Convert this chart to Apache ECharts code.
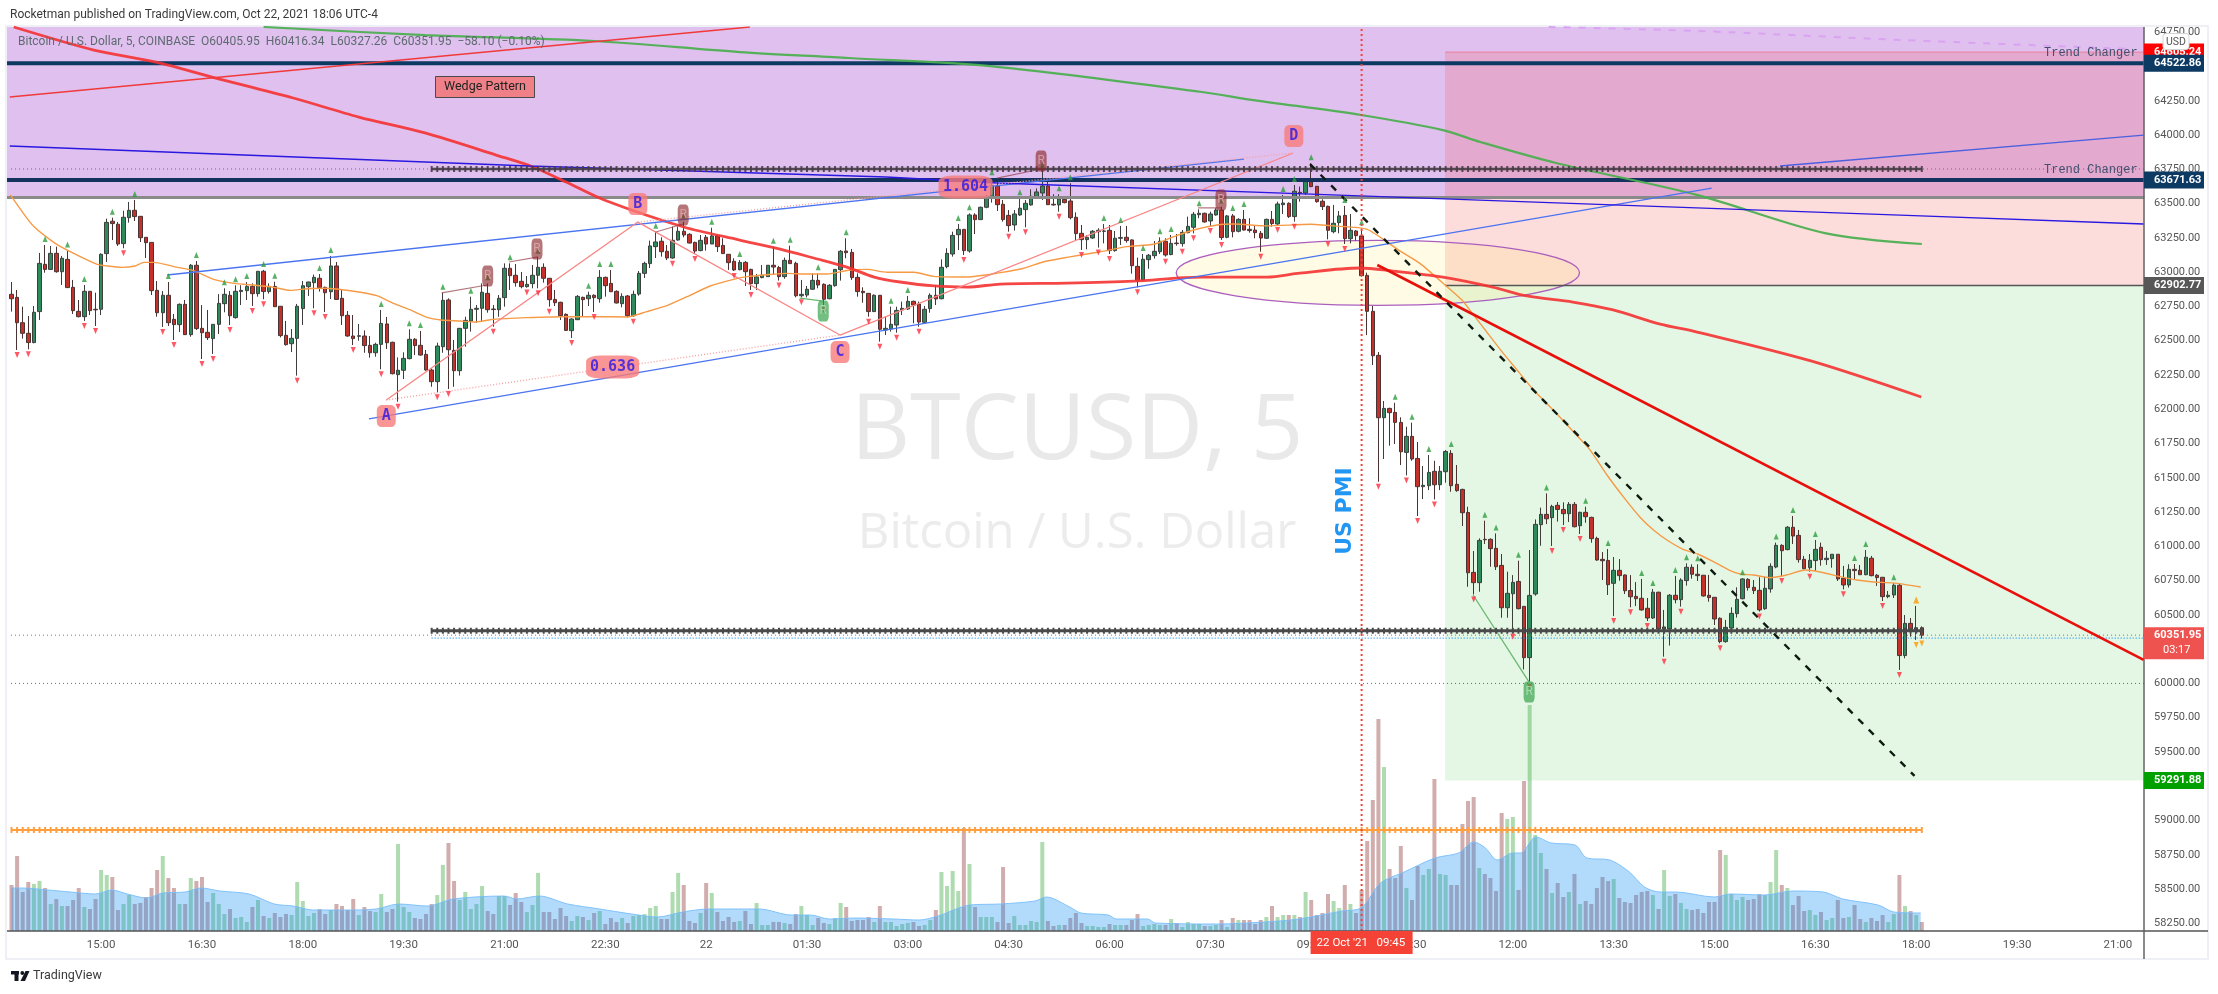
<!DOCTYPE html>
<html><head><meta charset="utf-8">
<style>html,body{margin:0;padding:0;background:#fff}#c{width:2218px;height:994px}</style>
<script src="https://cdn.jsdelivr.net/npm/echarts@6/dist/echarts.min.js"></script>
</head><body><div id="c"></div>
<script>
const opens=[62838,62816,62631,62554,62486,62712,63057,63020,63137,63003,
63093,62889,62714,62675,62860,62729,62729,63135,63371,63349,
63208,63397,63451,63407,63254,63217,62867,62704,62831,62656,
62617,62765,62544,63050,62590,62561,62515,62619,62770,62831,
62668,62858,62865,62896,62843,63006,62858,62896,62751,62539,
62478,62517,62734,62894,62923,62955,62889,62857,63045,62809,
62685,62534,62532,62534,62466,62412,62473,62622,62488,62252,
62284,62369,62510,62466,62400,62286,62201,62456,62797,62429,
62281,62590,62643,62729,62736,62845,62731,62726,62814,63028,
62977,62933,62894,62916,62977,63035,62955,62801,62780,62692,
62573,62653,62816,62806,62831,62806,62962,62918,62860,62770,
62826,62682,62840,62991,63062,63186,63225,63152,63103,63234,
63298,63276,63217,63157,63254,63205,63264,63195,63130,63079,
63018,63071,63020,62916,62960,62967,63050,63033,62967,63086,
63064,62828,62833,62875,62940,62911,62806,62901,63018,63154,
63144,62962,62860,62845,62712,62831,62578,62585,62614,62724,
62731,62787,62768,62634,62734,62831,62806,63040,63132,63273,63312,
63154,63417,63383,63473,63551,63626,63495,63414,63344,
63417,63456,63490,63551,63577,63628,63495,63490,63531,63519,
63400,63283,63237,63249,63295,63298,63305,63157,63247,63254,
63235,63042,62943,63091,63120,63149,63225,63128,63212,63208,
63288,63327,63419,63429,63373,63417,63453,63254,63410,63298,
63385,63312,63307,63283,63247,63385,63351,63492,63502,63405,
63582,63577,63658,63626,63517,63480,63295,63361,63414,63244,63300,63264,
62976,62714,62393,61938,62006,61977,61904,61685,61802,
61641,61435,61442,61547,61449,61544,61678,61452,61415,61247,
60810,60735,61051,61051,60985,60861,60552,60654,60744,60562,
60188,60652,61158,61233,61209,61299,61269,61238,61306,61150,
61248,61211,61058,60905,60897,60730,60825,60791,60678,60635,
60621,60548,60477,60665,60397,60397,60643,60611,60750,60847,
60796,60789,60643,60628,60475,60305,60404,60509,60618,60759,
60701,60679,60545,60689,60849,61007,60976,61139,61080,60905,
60844,60896,60993,60903,60910,60942,60767,60718,60832,60825,
60793,60913,60789,60774,60633,60645,60716,60203,60438,60392,60405.95];
const closes=[62806,62631,62554,62486,62707,63064,63020,63137,63003,63101,
62887,62719,62675,62860,62719,62725,63130,63363,63354,63205,
63400,63451,63405,63251,63215,62865,62704,62831,62631,62617,
62765,62544,63050,62588,62558,62522,62619,62772,62838,62682,
62860,62867,62896,62843,63006,62858,62896,62748,62537,62471,
62517,62751,62901,62928,62962,62887,62850,63045,62801,62682,
62534,62515,62536,62464,62412,62473,62626,62485,62259,62284,
62371,62510,62464,62395,62286,62201,62461,62794,62434,62281,
62590,62648,62729,62736,62853,62726,62727,62809,63028,62974,
62923,62894,62911,62977,63035,62955,62799,62777,62682,62575,
62658,62823,62799,62831,62814,62962,62901,62857,62775,62823,
62682,62838,62991,63064,63191,63220,63149,63103,63232,63298,
63271,63212,63154,63232,63205,63264,63186,63135,63069,63016,
63071,63003,62916,62965,62977,63050,63037,62967,63086,63062,
62828,62838,62875,62940,62906,62802,62904,63020,63152,63142,
62960,62858,62850,62712,62831,62583,62590,62619,62721,62736,
62787,62760,62636,62729,62831,62804,63035,63137,63268,63312,63157,
63417,63383,63473,63553,63631,63492,63383,63339,63424,
63466,63502,63553,63585,63628,63492,63490,63534,63507,63397,
63281,63237,63254,63298,63305,63300,63157,63247,63252,63230,
63047,62938,63094,63123,63152,63225,63125,63210,63208,63290,
63334,63422,63429,63366,63424,63453,63252,63410,63295,63385,
63307,63303,63288,63249,63385,63354,63497,63504,63405,63590,
63575,63660,63624,63514,63478,63305,63356,63410,63244,63305,63266,62974,
62714,62390,61938,62006,61975,61904,61690,61802,61637,
61435,61445,61539,61449,61547,61692,61442,61406,61245,60807,
60735,61043,61048,60983,60851,60552,60657,60737,60545,60188,
60642,61160,61233,61201,61291,61269,61238,61306,61143,61248,
61216,61056,60900,60895,60720,60825,60786,60676,60632,60618,
60536,60477,60665,60397,60412,60643,60611,60754,60847,60796,
60786,60638,60626,60470,60305,60409,60511,60613,60762,60699,
60677,60536,60694,60854,61007,60968,61139,61075,60903,60837,
60898,60978,60903,60913,60942,60762,60718,60832,60823,60793,
60920,60786,60772,60633,60643,60716,60203,60438,60392,60406,60351.95];
const highs=[62928,62870,62748,62680,62753,63140,63198,63191,63186,63118,
63157,62943,62797,62906,62860,62850,63137,63390,63397,63366,
63448,63512,63526,63409,63254,63217,62935,62862,62928,62695,
62772,62797,63059,63081,62760,62724,62619,62840,62882,62862,
62904,62904,62928,62918,63006,63016,62918,62930,62751,62644,
62585,62768,62935,62930,62982,62986,62894,63118,63074,62870,
62716,62687,62622,62575,62534,62485,62724,62673,62493,62378,
62415,62583,62519,62571,62432,62298,62485,62850,62809,62505,
62590,62675,62821,62760,62918,62918,62760,62833,63064,63064,
63059,63001,62972,63052,63113,63064,62955,62870,62784,62699,
62663,62833,62821,62857,62838,63015,62967,63015,62867,62845,
62833,62865,63008,63076,63230,63295,63254,63198,63332,63332,
63368,63283,63222,63271,63271,63324,63271,63247,63130,63101,
63088,63081,63025,62986,63052,63052,63186,63045,63106,63193,
63076,62943,62899,62991,62991,62918,62913,63020,63161,63247,
63169,62991,62889,62845,62838,62833,62675,62748,62748,62785,
62826,62792,62785,62753,62845,62906,63093,63174,63295,63351,63312,
63429,63429,63478,63563,63684,63660,63526,63453,63453,
63538,63526,63604,63611,63740,63660,63568,63568,63551,63648,
63436,63344,63269,63307,63320,63351,63344,63300,63337,63337,
63239,63106,63132,63132,63227,63254,63247,63271,63278,63307,
63405,63439,63458,63434,63441,63466,63478,63417,63424,63393,
63453,63393,63344,63300,63390,63446,63514,63563,63509,63636,
63624,63667,63794,63628,63531,63485,63490,63446,63483,63424,63307,63320,
62996,62753,62417,62060,62011,62047,61941,61872,61902,
61761,61586,61666,61624,61586,61702,61702,61593,61420,61289,
60966,61058,61187,61058,61094,60944,60815,60790,60895,60562,
60973,61196,61282,61386,61303,61323,61321,61323,61323,61252,
61289,61216,61070,60958,60980,60922,60907,60795,60790,60739,
60762,60623,60689,60669,60536,60652,60784,60767,60876,60869,
60869,60791,60791,60628,60482,60463,60555,60701,60767,60767,
60754,60774,60779,60876,61027,61015,61148,61221,61119,60930,
60944,61046,61027,60966,60942,60942,60857,60869,60871,60864,
60973,60930,60798,60774,60674,60730,60730,60499,60477,60565,60416.34];
const lows=[62712,62432,62515,62437,62481,62651,62996,63016,62996,62906,
62884,62695,62670,62644,62687,62607,62687,63074,63234,63191,
63174,63361,63373,63220,63103,62833,62675,62600,62607,62505,
62563,62544,62529,62578,62366,62505,62403,62549,62707,62614,
62661,62760,62797,62753,62821,62802,62843,62746,62524,62464,
62417,62245,62614,62826,62736,62858,62709,62804,62797,62614,
62529,62468,62500,62412,62376,62383,62291,62439,62254,62055,
62220,62364,62395,62391,62281,62164,62123,62412,62147,62164,
62245,62456,62566,62631,62639,62704,62602,62675,62748,62870,
62894,62882,62887,62882,62882,62923,62748,62753,62651,62571,
62519,62651,62675,62753,62709,62777,62821,62857,62772,62743,
62670,62675,62828,62957,63030,63103,63113,63088,63098,63230,
63254,63210,63132,63152,63157,63205,63147,63132,63016,63008,
63013,62899,62870,62870,62955,62967,62979,62938,62952,63062,
62816,62816,62816,62870,62882,62760,62802,62894,62938,63101,
62943,62821,62777,62675,62709,62493,62541,62566,62558,62687,
62724,62627,62602,62627,62704,62760,62802,63028,63113,63161,63125,
63142,63278,63380,63466,63507,63446,63368,63295,63303,
63410,63327,63485,63551,63526,63490,63485,63441,63502,63385,
63230,63162,63166,63242,63179,63210,63132,63149,63198,63215,
62989,62889,62938,63025,63098,63132,63113,63123,63193,63186,
63283,63283,63393,63361,63337,63412,63235,63247,63254,63290,
63303,63288,63247,63149,63242,63332,63344,63424,63395,63368,
63514,63563,63619,63507,63453,63239,63283,63283,63205,63210,63230,62967,
62541,62322,61471,61637,61734,61746,61593,61517,61624,
61221,61345,61410,61342,61410,61464,61398,61398,61148,60705,
60649,60669,61017,60851,60827,60479,60479,60377,60540,60102,
60012,60640,61004,61162,61002,61180,61155,61177,61138,61090,
61172,61026,60895,60754,60645,60491,60749,60652,60555,60564,
60531,60455,60470,60395,60195,60276,60584,60560,60713,60764,
60747,60633,60596,60426,60293,60297,60400,60480,60613,60677,
60652,60524,60536,60662,60840,60784,60971,61017,60881,60832,
60815,60820,60859,60864,60844,60747,60686,60699,60762,60791,
60789,60781,60711,60601,60621,60623,60098,60183,60341,60317,60327.26];
const volumes=[46,75,39,49,47,50,43,27,32,25,25,31,43,24,22,32,61,56,54,21,27,36,27,28,34,43,61,75,53,43,27,27,53,50,54,29,38,27,17,22,13,14,9,24,31,15,13,18,14,17,16,49,30,15,18,22,17,21,27,25,21,32,16,24,20,19,37,19,22,87,24,19,13,12,17,27,36,66,88,50,31,39,22,27,45,20,17,35,35,26,38,29,19,26,58,19,19,12,23,15,10,15,14,11,18,20,7,13,9,13,8,15,16,17,23,25,12,12,39,58,46,10,8,18,48,38,19,10,14,9,10,20,7,28,6,6,9,9,8,7,17,25,16,6,13,8,7,13,28,24,10,11,11,14,9,25,9,9,5,7,8,9,5,6,11,21,59,45,60,40,103,67,24,14,14,14,9,64,8,15,6,6,10,9,89,10,5,6,6,13,18,8,5,5,4,4,7,6,6,6,11,17,5,6,7,6,6,12,8,4,9,7,7,5,5,6,11,4,13,11,11,11,7,11,14,25,14,16,16,16,14,39,31,16,18,37,30,23,46,27,18,41,90,131,212,164,62,53,85,43,31,65,56,62,152,57,56,46,46,107,130,134,63,57,53,40,118,112,114,41,150,226,96,78,62,38,48,34,39,57,27,30,27,43,54,50,52,33,29,28,36,39,40,36,22,61,35,37,28,22,21,22,18,29,29,81,76,37,31,34,31,32,37,36,49,81,46,43,26,35,20,21,16,19,11,13,31,13,14,26,12,9,13,10,16,9,17,56,25,20,16,9];
const volumeMA=[[0,43],[1.9,43],[6.5,41],[10.5,39],[15,37],[17.9,41],[20.7,37],[24.1,33],[27,38],[31,39],[33.8,43],[37.2,40],[42.4,37],[46.9,27],[50.3,25],[53.8,21],[59.5,21],[65.1,22],[69.1,27],[74.3,25],[78.8,32],[87.9,35],[90.2,32],[94.2,35],[99.3,27],[105,22],[110.7,17],[115.3,14],[119.8,19],[124.4,22],[133.5,22],[139.2,16],[142.6,16],[146,12],[150.6,13],[157.4,12],[162,11],[165.4,15],[171.1,26],[176.5,27],[182.7,30],[184.7,34],[188.9,24],[190.9,18],[195.8,16],[197.2,12],[202.8,12],[204.2,8],[215.3,7],[223.6,9],[229.8,12],[237.5,20],[240.9,23],[244.4,48],[248.6,59],[254.1,73],[258.3,78],[261,89],[263.1,83],[265.2,71],[268,78],[269.4,78],[272.1,94],[274.9,88],[279.1,86],[281.2,73],[285.3,71],[288.8,59],[291.5,44],[294.3,39],[297.1,39],[304,34],[306.8,37],[313,36],[317.9,40],[323.4,39],[326.9,32],[333.2,26],[336,19],[340.8,18]];
const orangeMA=[[-0.2,63563],[1.9,63441],[4,63332],[7.8,63210],[11.1,63137],[15.3,63057],[17.1,63045],[19.7,63035],[22.1,63045],[23.6,63071],[25.4,63071],[29.6,63035],[32.5,63011],[36.1,62947],[39.7,62918],[43.2,62906],[46.8,62889],[49.8,62867],[52.8,62879],[56.3,62882],[59.3,62870],[62.3,62853],[65.2,62828],[68.2,62772],[71.2,62724],[74.2,62670],[76.6,62651],[80.1,62643],[82.5,62636],[86.1,62656],[92,62668],[98,62675],[104,62675],[109.9,62673],[113.4,62712],[117,62755],[120.6,62821],[124.7,62899],[128.9,62947],[131.3,62967],[134.9,62981],[138.4,62991],[142,62986],[145.6,62986],[149.7,63016],[152.7,63020],[156.3,62999],[161.1,62999],[164.6,62969],[170.6,62964],[176.5,62996],[180.7,63028],[184.3,63076],[188.4,63108],[194.4,63149],[199.1,63186],[203.9,63203],[207.5,63259],[211,63307],[215.2,63344],[218.2,63351],[224.1,63337],[231.9,63349],[236,63337],[242,63312],[247.6,63161],[251.4,63064],[255.9,62906],[258.9,62796],[261,62687],[263.3,62565],[266.3,62407],[269,62274],[271.7,62140],[275.2,61994],[278.8,61836],[281.8,61702],[284.8,61520],[287.7,61362],[290.7,61212],[293.1,61119],[295.5,61046],[298.4,60978],[301.1,60942],[303.8,60888],[306.8,60823],[308.6,60798],[310.9,60791],[313.9,60771],[316.9,60791],[320.2,60827],[322.8,60813],[326.4,60779],[329.4,60754],[332.4,60740],[335.9,60733],[340.8,60703]];
const redMA=[[0.4,64788],[14.7,64620],[25.8,64532],[35.8,64423],[50.3,64270],[62,64131],[73.8,64015],[86.5,63854],[93.1,63767],[99,63657],[105.8,63526],[120,63329],[130,63234],[137.2,63168],[143.2,63103],[149.1,63037],[154,62964],[158.6,62928],[164.7,62899],[170.6,62891],[176.5,62913],[188.4,62920],[200.4,62935],[212.2,62964],[224.1,62964],[230,62993],[240.7,63030],[246.6,63008],[255.5,62964],[264.4,62891],[270.5,62826],[278.7,62782],[285.9,62724],[294.3,62621],[300.9,62563],[321.2,62352],[340.9,62089]];
const greenMA=[[45,64788],[73.8,64729],[104,64686],[130,64605],[149.5,64562],[174.7,64503],[212.5,64314],[221.7,64255],[240.9,64146],[255.5,64036],[262.2,63949],[275.7,63796],[301,63562],[323.7,63285],[341,63205]];
const wedgeUpper=[[27.8,62979],[220,63825]];
const wedgeLower=[[63.8,61929],[303.5,63613]];
const blueRising=[[315.7,63774],[380.6,64000]];
const blueFalling=[[-0.3,63920],[92.4,63774],[156.1,63694],[175.9,63650],[242,63555],[337.1,63416],[380.6,63351]];
const redRising=[[-0.3,64277],[131.8,64788]];
const redFalling=[[243.8,63052],[380.6,60171]];
const blackDashed=[[231.8,63788],[339.7,59325]];
const lilacDashed=[[274.4,64788],[300.9,64759],[337.6,64693],[378.7,64627]];
const patternABCD=[[66.9,62067],[111.8,63365],[147.9,62541],[228.8,63869]];
const connectorsDark=[[[76.8,62848],[84.9,62906]],[[88.8,63074],[93.8,63110]],[[115,63293],[119.9,63351]],[[175.9,63686],[183.8,63752]],[[211.8,63468],[215.9,63468]]];
const connectorsGreen=[[[140.7,62811],[144.9,62789]],[[260.9,60645],[270.9,60010]]];
const upMarks=[6,10,13,18,22,28,33,38,40,42,45,47,55,57,66,71,73,77,82,85,89,94,103,105,107,115,120,125,130,136,139,144,149,157,160,169,171,175,180,184,187,189,195,198,202,205,207,212,216,218,220,227,229,232,238,241,247,250,253,257,263,265,269,274,281,285,291,293,297,299,301,309,315,318,322,329,331,336];
const downMarks=[1,3,13,15,20,27,29,34,36,39,43,45,51,54,56,61,66,69,76,78,86,92,94,96,100,104,111,118,122,129,132,137,141,145,153,155,158,162,170,178,181,187,191,194,196,201,206,209,211,214,216,223,226,229,235,238,244,249,251,254,261,268,271,275,277,280,286,289,292,295,298,305,312,316,321,327,334,337];
const orangeUp=[340];
const orangeDown=[340,341];
const patternTags=[{t:'A',x:66.9,p:61950,w:19,h:22,f:15},{t:'B',x:111.8,p:63497,w:19,h:22,f:15},{t:'C',x:147.9,p:62417,w:19,h:22,f:15},{t:'D',x:228.9,p:63993,w:19,h:22,f:15},{t:'0.636',x:107.3,p:62308,w:53,h:23,f:15},{t:'1.604',x:170.3,p:63621,w:54,h:23,f:15}];
const revDark=[[85,62972],[93.8,63168],[119.9,63416],[183.8,63810],[215.9,63526]];
const revGreen=[[144.9,62716],[270.9,59937]];
const levelUpper=63752, levelLower=60384, levelOrange=58931, levelNavyA=64522.86, levelNavyB=63671.63, levelGrey=63544;
const lastPrice=60351.95, bluePrice=60330, round60k=60000;
const stopPrice=64605.24, entryPrice=62902.77, targetPrice=59291.88;
const priceTicks=[58250,58500,58750,59000,59250,59500,59750,60000,60250,60500,60750,61000,61250,61500,61750,62000,62250,62500,62750,63000,63250,63500,63750,64000,64250,64500,64750];
const timeTicks={16:'15:00',34:'16:30',52:'18:00',70:'19:30',88:'21:00',106:'22:30',124:'22',142:'01:30',160:'03:00',178:'04:30',196:'06:00',214:'07:30',232:'09:00',250:'10:30',268:'12:00',286:'13:30',304:'15:00',322:'16:30',340:'18:00',358:'19:30',376:'21:00'};
const eventBar=241;
const yMin=58194,yMax=64788,xL=-0.8,xR=380.7,boxL=255.9;
const zones=[
 {x0:xL,p0:yMax,x1:xR,p1:levelGrey,c:'#e0c0ee'},
 {x0:boxL,p0:stopPrice,x1:xR,p1:entryPrice,c:'rgba(245,80,80,0.2)'},
 {x0:boxL,p0:entryPrice,x1:xR,p1:targetPrice,c:'rgba(76,200,80,0.15)'}
];
const priceTags=[
 {p:stopPrice,c:'#ff0000',t:'64605.24'},
 {p:levelNavyA,c:'#0d3a63',t:'64522.86'},
 {p:levelNavyB,c:'#0d3a63',t:'63671.63'},
 {p:entryPrice,c:'#575757',t:'62902.77'},
 {p:targetPrice,c:'#00a000',t:'59291.88'}
];

const categories=Array.from({length:381},(_,i)=>timeTicks[i]||'');
const candleData=closes.map((c,i)=>[opens[i],c,lows[i],highs[i]]);
const barCols=i=>closes[i]>=opens[i]?'rgba(76,175,80,0.45)':'rgba(140,50,50,0.4)';
const ln=(name,data,color,width,extra)=>Object.assign({name,type:'line',xAxisIndex:1,yAxisIndex:0,data,symbol:'none',silent:true,z:6,
  lineStyle:{color,width},animation:false},extra||{});
const hatch=(from,to,p)=>{const d=[];for(let i=from;i<=to;i++)d.push([i,p]);return d;};
const hatchSeries=(name,from,to,p,color,lw,h)=>({name,type:'line',xAxisIndex:1,yAxisIndex:0,data:hatch(from,to,p),symbol:'rect',symbolSize:[2,h],showSymbol:true,showAllSymbols:true,
  itemStyle:{color},lineStyle:{color,width:lw},z:7,silent:true,animation:false});
const tri=(name,idx,src,color,dy,rot,size)=>({name,type:'scatter',xAxisIndex:1,yAxisIndex:0,data:idx.map(i=>[i,src[i]]),symbol:'triangle',symbolSize:size||[5,6],symbolOffset:[0,dy],symbolRotate:rot,itemStyle:{color},z:8,silent:true,animation:false});

const series=[
 {name:'zones',type:'custom',xAxisIndex:1,yAxisIndex:0,z:1,silent:true,animation:false,
  data:zones.map(z=>[z.x0,z.p0,z.x1,z.p1]),encode:{x:[0,2],y:[1,3]},
  renderItem(params,api){const a=api.coord([api.value(0),api.value(1)]),b=api.coord([api.value(2),api.value(3)]);
   return {type:'rect',shape:{x:a[0],y:a[1],width:b[0]-a[0],height:b[1]-a[1]},style:{fill:zones[params.dataIndex].c}};}},
 {name:'ellipse',type:'custom',xAxisIndex:1,yAxisIndex:0,z:2,silent:true,animation:false,
  data:[[243.9,62995,36,237]],encode:{x:0,y:1},
  renderItem(params,api){const c=api.coord([api.value(0),api.value(1)]),e=api.coord([api.value(0)+api.value(2),api.value(1)-api.value(3)]);
   return {type:'ellipse',shape:{cx:c[0],cy:c[1],rx:e[0]-c[0],ry:e[1]-c[1]},style:{fill:'rgba(255,235,120,0.2)',stroke:'#ab5fbd',lineWidth:1.3}};}},
 {name:'volume',type:'bar',xAxisIndex:0,yAxisIndex:1,barWidth:4,z:3,silent:true,animation:false,
  data:volumes.map((v,i)=>({value:v,itemStyle:{color:barCols(i)}}))},
 ln('volumeMA',volumeMA,'rgba(120,190,250,0.9)',1,{yAxisIndex:1,smooth:0.3,areaStyle:{color:'rgba(33,150,243,0.35)',opacity:1},z:4}),
 ln('dottedUpper',[[xL,levelUpper],[xR,levelUpper]],'#6b6b6b',1,{lineStyle:{color:'#6b6b6b',width:1,type:[1,3]}}),
 ln('dottedLast',[[xL,lastPrice],[xR,lastPrice]],'#e05040',1,{lineStyle:{color:'#e05040',width:1,type:[1,3]}}),
 ln('dottedBlue',[[75,bluePrice],[xR,bluePrice]],'#2196f3',1,{lineStyle:{color:'#2196f3',width:1.2,type:[1,2]}}),
 ln('dotted60k',[[xL,round60k],[xR,round60k]],'#666',1,{lineStyle:{color:'#666',width:1,type:[1,3]}}),
 ln('navyA',[[xL,levelNavyA],[xR,levelNavyA]],'#0d3a63',4),
 ln('navyB',[[xL,levelNavyB],[xR,levelNavyB]],'#14325e',4),
 ln('grey',[[xL,levelGrey],[xR,levelGrey]],'#8a8a8a',3),
 ln('entry',[[boxL,entryPrice],[xR,entryPrice]],'#555',1.5),
 ln('stop',[[boxL,stopPrice],[xR,stopPrice]],'rgba(240,90,110,0.55)',1),
 {name:'btc',type:'candlestick',xAxisIndex:0,yAxisIndex:0,data:candleData,barWidth:4,z:5,silent:true,animation:false,progressive:0,
  itemStyle:{color:'#2f8a5b',color0:'#c4302a',borderColor:'#3e3e3e',borderColor0:'#4a3433',borderWidth:1,borderColorDoji:'#3e3e3e'}},
 ln('orangeMA',orangeMA,'#f79a45',1.4,{smooth:0.2}),
 ln('greenMA',greenMA,'rgba(76,175,80,0.95)',2.2,{smooth:0.3}),
 ln('redMA',redMA,'rgba(244,50,50,0.9)',2.8,{smooth:0.3}),
 ln('wedgeUpper',wedgeUpper,'#4a74f0',1.3),
 ln('wedgeLower',wedgeLower,'#4a74f0',1.3),
 ln('blueRising',blueRising,'#4a60e0',1.3),
 ln('blueFalling',blueFalling,'#2a18e0',1.3),
 ln('redRising',redRising,'#f03a3a',1.4),
 ln('redFalling',redFalling,'#e8100b',2.6),
 ln('blackDashed',blackDashed,'#0f1a10',2.4,{lineStyle:{color:'#0f1a10',width:2.4,type:[7,8]},z:8}),
 ln('lilacDashed',lilacDashed,'#d9a3f2',2,{lineStyle:{color:'#d9a3f2',width:2,type:[7,8]},smooth:0.3}),
 ln('abcd',patternABCD,'#f98585',1.3),
 ln('ac',[patternABCD[0],patternABCD[2]],'#f9a0a0',1.4,{lineStyle:{color:'#f9a0a0',width:1.4,type:[1,2]}}),
 ln('bd',[patternABCD[1],patternABCD[3]],'#f9a0a0',1.4,{lineStyle:{color:'#f9a0a0',width:1.4,type:[1,2]}}),
 ...connectorsDark.map((d,i)=>ln('cd'+i,d,'rgba(150,60,70,0.7)',1.2)),
 ...connectorsGreen.map((d,i)=>ln('cg'+i,d,'#6ab76e',1.3)),
 hatchSeries('hatchUpper',75,341,levelUpper,'rgba(70,60,70,0.9)',2.5,6),
 hatchSeries('hatchLower',75,341,levelLower,'#4a4a4a',3,6),
 hatchSeries('hatchOrange',0,341,levelOrange,'#ffa040',2,6),
 tri('up',upMarks,highs,'#2e9e3e',-6,0),
 tri('down',downMarks,lows,'#ff2d3f',5,180),
 tri('upO',orangeUp,highs,'#ff9800',-6,0,[6,7]),
 tri('downO',orangeDown,lows,'#ff9800',5,180),
 {name:'rev',type:'scatter',xAxisIndex:1,yAxisIndex:0,z:9,silent:true,animation:false,symbol:'roundRect',symbolSize:[11,21],data:revDark,
  itemStyle:{color:'rgba(140,40,45,0.8)'},label:{show:true,position:'inside',formatter:'R',color:'#e0aeb0',fontSize:12,fontFamily:'Roboto'}},
 {name:'revG',type:'scatter',xAxisIndex:1,yAxisIndex:0,z:9,silent:true,animation:false,symbol:'roundRect',symbolSize:[11,21],data:revGreen,
  itemStyle:{color:'rgba(50,160,70,0.85)'},label:{show:true,position:'inside',formatter:'R',color:'#b5e0ba',fontSize:12,fontFamily:'Roboto'}},
 {name:'tags',type:'scatter',xAxisIndex:1,yAxisIndex:0,z:10,silent:true,animation:false,symbol:'roundRect',
  data:patternTags.map(t=>({value:[t.x,t.p],symbolSize:[t.w,t.h],label:{show:true,position:'inside',formatter:t.t,color:'#2a17e6',fontSize:t.f,fontWeight:'bold',fontFamily:'DejaVu Sans Mono'}})),
  itemStyle:{color:'#f77a7a'}},
 {name:'eventLine',type:'line',xAxisIndex:1,yAxisIndex:0,z:11,silent:true,animation:false,symbol:'none',data:[[eventBar,yMin],[eventBar,yMax]],
  lineStyle:{color:'#f44336',width:2,type:[2,3]}},
 {name:'priceTags',type:'custom',xAxisIndex:1,yAxisIndex:0,z:20,silent:true,animation:false,
  data:priceTags.map(t=>[xR,t.p]),encode:{x:0,y:1},
  renderItem(params,api){const t=priceTags[params.dataIndex],c=api.coord([xR,api.value(1)]);
   return {type:'group',children:[
    {type:'rect',shape:{x:2144,y:c[1]-8.5,width:60,height:17},style:{fill:t.c}},
    {type:'text',style:{x:2154,y:c[1],text:t.t,fill:'#fff',font:'bold 11px Roboto',textVerticalAlign:'middle'}}]};}},
 {name:'lastTag',type:'custom',xAxisIndex:1,yAxisIndex:0,z:20,silent:true,animation:false,
  data:[[xR,lastPrice]],encode:{x:0,y:1},
  renderItem(params,api){const c=api.coord([xR,api.value(1)]);
   return {type:'group',children:[
    {type:'rect',shape:{x:2144,y:c[1]-8,width:60,height:32},style:{fill:'#ef5350'}},
    {type:'text',style:{x:2154,y:c[1],text:'60351.95',fill:'#fff',font:'bold 11px Roboto',textVerticalAlign:'middle'}},
    {type:'text',style:{x:2163,y:c[1]+15,text:'03:17',fill:'#fff',font:'11px Roboto',textVerticalAlign:'middle'}}]};}},
 {name:'timeTag',type:'custom',xAxisIndex:1,yAxisIndex:0,z:20,silent:true,animation:false,
  data:[[eventBar,yMin]],encode:{x:0,y:1},
  renderItem(params,api){const c=api.coord([api.value(0),api.value(1)]);
   return {type:'group',children:[
    {type:'rect',shape:{x:c[0]-51,y:c[1],width:102,height:23},style:{fill:'#f44336'}},
    {type:'text',style:{x:c[0]-45,y:c[1]+12,text:"22 Oct '21",fill:'#fff',font:'11.5px Roboto',textAlign:'left',textVerticalAlign:'middle'}},
    {type:'text',style:{x:c[0]+15,y:c[1]+12,text:'09:45',fill:'#fff',font:'11.5px Roboto',textAlign:'left',textVerticalAlign:'middle'}}]};}}
];
const fontT='Roboto';
const graphic=[
 {type:'rect',z:0,shape:{x:6,y:26,width:2202,height:933},style:{fill:'none',stroke:'#eef0f6',lineWidth:2},silent:true},
 {type:'text',z:30,style:{x:10,y:15,text:'Rocketman published on TradingView.com, Oct 22, 2021 18:06 UTC-4',fill:'#3a3a3a',font:'12px '+fontT,verticalAlign:'middle'}},
 {type:'text',z:15,style:{x:18,y:42,text:'Bitcoin / U.S. Dollar, 5, COINBASE  O60405.95  H60416.34  L60327.26  C60351.95  \u221258.10 (\u22120.10%)',fill:'#5d6a70',font:'12px '+fontT,verticalAlign:'middle'}},
 {type:'text',z:0,style:{x:1077,y:433,text:'BTCUSD, 5',fill:'#e9e9e9',font:'92px "Open Sans"',align:'center',verticalAlign:'middle'}},
 {type:'text',z:0,style:{x:1077,y:534,text:'Bitcoin / U.S. Dollar',fill:'#ececec',font:'49px "Open Sans"',align:'center',verticalAlign:'middle'}},
 {type:'rect',z:15,shape:{x:435.5,y:76.5,width:99,height:21},style:{fill:'#f08088',stroke:'#4a4a4a',lineWidth:1},silent:true},
 {type:'text',z:16,style:{x:485,y:87,text:'Wedge Pattern',fill:'#222',font:'12.5px Roboto',align:'center',verticalAlign:'middle'}},
 {type:'text',z:16,style:{x:2044,y:53,text:'Trend Changer',fill:'#43506f',font:'12px "Liberation Mono"',verticalAlign:'middle'}},
 {type:'text',z:16,style:{x:2044,y:170,text:'Trend Changer',fill:'#43506f',font:'12px "Liberation Mono"',verticalAlign:'middle'}},
 {type:'text',z:16,rotation:Math.PI/2,x:1345,y:511,style:{x:0,y:0,text:'US PMI',fill:'#2196f3',font:'bold 22px "DejaVu Sans"',align:'center',verticalAlign:'middle'}},
 {type:'line',z:18,shape:{x1:7,y1:931,x2:2208,y2:931},style:{stroke:'#555',lineWidth:1.4},silent:true},
 {type:'line',z:18,shape:{x1:2144,y1:27,x2:2144,y2:959},style:{stroke:'#5a5a5a',lineWidth:1.4},silent:true},
 {type:'rect',z:40,shape:{x:2163,y:33.5,width:26,height:16,r:3},style:{fill:'#fff',stroke:'#d5d5d5',lineWidth:1},silent:true},
 {type:'text',z:41,style:{x:2176,y:42,text:'USD',fill:'#555',font:'10.5px Roboto',align:'center',verticalAlign:'middle'}},
 {type:'rect',z:30,shape:{x:11,y:971,width:8,height:3.5},style:{fill:'#131722'},silent:true},
 {type:'rect',z:30,shape:{x:14.5,y:971,width:4,height:10},style:{fill:'#131722'},silent:true},
 {type:'circle',z:30,shape:{cx:22.3,cy:973,r:1.9},style:{fill:'#131722'},silent:true},
 {type:'polygon',z:30,shape:{points:[[25.5,971],[29.5,971],[25,981],[20.5,981]]},style:{fill:'#131722'},silent:true},
 {type:'text',z:30,style:{x:33,y:976,text:'TradingView',fill:'#3a3a3a',font:'12.5px Roboto',verticalAlign:'middle'}}
];
const chart=echarts.init(document.getElementById('c'),null,{renderer:'canvas'});
chart.setOption({animation:false,backgroundColor:'#fff',
 grid:{left:8.7,width:2134.4,top:27,height:904,containLabel:false},
 xAxis:[
  {type:'category',data:categories,boundaryGap:true,axisLine:{show:false},axisTick:{show:false},splitLine:{show:false},
   axisLabel:{interval:(i,v)=>v!=='',color:'#555',fontSize:11.5,fontFamily:'Roboto',margin:8,hideOverlap:false,formatter:v=>v}},
  {type:'value',min:-0.5,max:380.5,show:false,splitLine:{show:false}}
 ],
 yAxis:[
  {type:'value',position:'right',min:yMin,max:yMax,splitLine:{show:false},axisLine:{show:false},axisTick:{show:false},
   axisLabel:{color:'#555',fontSize:11,fontFamily:'Roboto',margin:11,customValues:priceTicks,formatter:v=>v.toFixed(2)}},
  {type:'value',min:0,max:904,show:false,splitLine:{show:false}}
 ],
 series,graphic:{elements:graphic}
});
</script></body></html>
